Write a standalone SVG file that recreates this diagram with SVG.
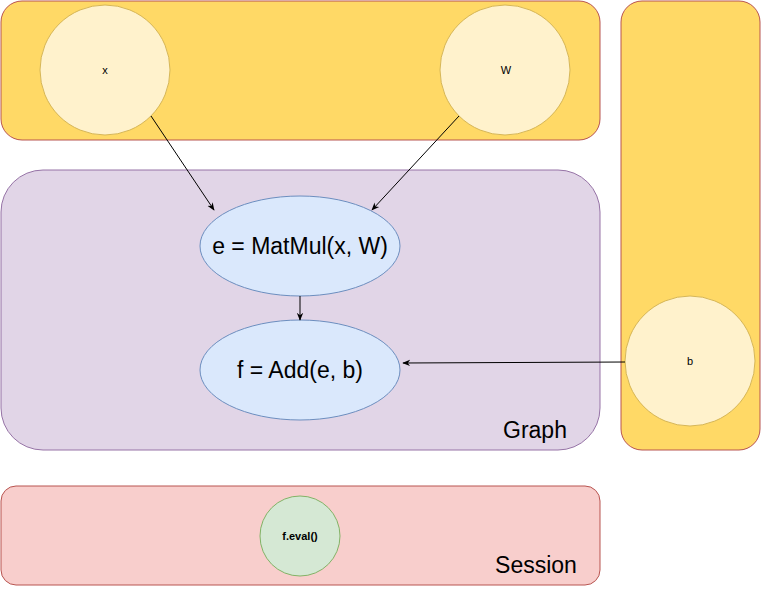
<svg xmlns="http://www.w3.org/2000/svg" width="761" height="591" viewBox="0 0 761 591">
<defs>
<style>
.yellow{fill:#ffd966;stroke:#b85450;stroke-width:1}
.var{fill:#fff2cc;stroke:#d6b656;stroke-width:1}
.op{fill:#dae8fc;stroke:#6c8ebf;stroke-width:1}
.t{font-family:"Liberation Sans",Arial,sans-serif;fill:#000;text-anchor:middle}
.s{font-size:11px}
.l{font-size:23px}
.edge{stroke:#000;stroke-width:1;fill:none;marker-end:url(#arr)}
</style>
<marker id="arr" viewBox="0 0 10 10" refX="9" refY="5" markerWidth="8" markerHeight="8" markerUnits="userSpaceOnUse" orient="auto">
<path d="M0,1 L10,5 L0,9 L3,5 Z" fill="#000"/>
</marker>
</defs>
<g id="inputs">
<rect x="1" y="1" width="599" height="139" rx="21" ry="21" class="yellow"/>
</g>
<g id="bias-container">
<rect x="621" y="1" width="139" height="449" rx="21" ry="21" class="yellow"/>
</g>
<g id="graph">
<rect x="1" y="170" width="599" height="280" rx="42" ry="42" fill="#e1d5e7" stroke="#9673a6"/>
<text x="535" y="438" class="t l">Graph</text>
</g>
<g id="session">
<rect x="1" y="486" width="599" height="99" rx="15" ry="15" fill="#f8cecc" stroke="#b85450"/>
<text x="536" y="573" class="t l">Session</text>
</g>
<g id="node-x">
<circle cx="105" cy="70" r="65" class="var"/>
<text x="105" y="74" class="t s">x</text>
</g>
<g id="node-W">
<circle cx="505" cy="70" r="65" class="var"/>
<text x="506" y="74" class="t s">W</text>
</g>
<g id="node-b">
<circle cx="690" cy="361" r="65" class="var"/>
<text x="690" y="365" class="t s">b</text>
</g>
<g id="node-e">
<ellipse cx="300" cy="246" rx="100" ry="50" class="op"/>
<text x="300" y="254" class="t l">e = MatMul(x, W)</text>
</g>
<g id="node-f">
<ellipse cx="300" cy="370" rx="100" ry="50" class="op"/>
<text x="300" y="378" class="t l">f = Add(e, b)</text>
</g>
<g id="node-eval">
<ellipse cx="300" cy="536" rx="40" ry="40" fill="#d5e8d4" stroke="#82b366"/>
<text x="300" y="540" class="t s" font-weight="bold">f.eval()</text>
</g>
<g id="connectors">
<line x1="151" y1="116" x2="214" y2="210" class="edge"/>
<line x1="459" y1="116" x2="372" y2="210" class="edge"/>
<line x1="300" y1="296" x2="300" y2="320" class="edge"/>
<line x1="625" y1="362" x2="403" y2="363" class="edge"/>
</g>
</svg>
